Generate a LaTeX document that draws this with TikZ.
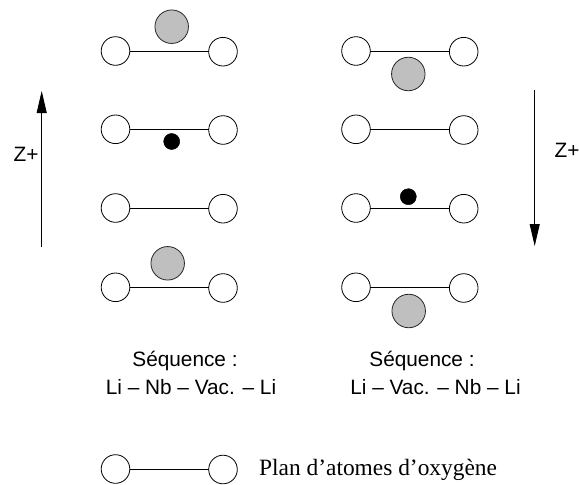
\documentclass[tikz,border=0pt]{standalone}
\usepackage{fontspec}
\setmainfont{Liberation Sans}
\newfontfamily\serifplan{Liberation Serif}
\usetikzlibrary{arrows.meta}
\tikzset{
  x=1pt,y=-1pt,
  oxy/.style={circle,draw=black,fill=white,line width=0.8pt,minimum size=28.6pt,inner sep=0pt,outer sep=0pt},
  nb/.style={circle,draw=black,fill=black,line width=0.5pt,minimum size=16pt,inner sep=0pt},
  li/.style={circle,draw=black!85,fill=black!25,line width=0.8pt,minimum size=33.5pt,inner sep=0pt},
  plane/.style={line width=0.8pt},
  axis/.style={line width=0.8pt,-{Triangle[length=22pt,width=10pt]}},
  lab/.style={anchor=base,inner sep=0pt,font=\fontsize{20.8}{24}\selectfont},
  planlab/.style={anchor=base west,inner sep=0pt,font=\fontsize{23.4}{27}\serifplan}
}
\begin{document}
\begin{tikzpicture}
\useasboundingbox (0,0) rectangle (579,485);
% left column
\node[oxy] (a1) at (115.5,51) {}; \node[oxy] (b1) at (223,51.7) {};
\node[oxy] (a2) at (115.5,129.3) {}; \node[oxy] (b2) at (223,130) {};
\node[oxy] (a3) at (115.5,208) {}; \node[oxy] (b3) at (223,208.7) {};
\node[oxy] (a4) at (115.5,287.3) {}; \node[oxy] (b4) at (223,288) {};
\draw[plane] (a1.east) -- (a1.east -| b1.west);
\draw[plane] (a2.east) -- (a2.east -| b2.west);
\draw[plane] (a3.east) -- (a3.east -| b3.west);
\draw[plane] (a4.east) -- (a4.east -| b4.west);
\node[li] (l1) at (171.7,26.7) {};
\node[nb] (n1) at (171.7,141.5) {};
\node[li] (l2) at (167.7,263.3) {};
% right column
\node[oxy] (c1) at (356,51) {}; \node[oxy] (d1) at (463.7,51.7) {};
\node[oxy] (c2) at (356,129.3) {}; \node[oxy] (d2) at (463.7,130) {};
\node[oxy] (c3) at (356,208) {}; \node[oxy] (d3) at (463.7,208.7) {};
\node[oxy] (c4) at (356,287.3) {}; \node[oxy] (d4) at (463.7,288) {};
\draw[plane] (c1.east) -- (c1.east -| d1.west);
\draw[plane] (c2.east) -- (c2.east -| d2.west);
\draw[plane] (c3.east) -- (c3.east -| d3.west);
\draw[plane] (c4.east) -- (c4.east -| d4.west);
\node[li] (l3) at (408.3,74) {};
\node[nb] (n2) at (408.3,196.7) {};
\node[li] (l4) at (408.7,311) {};
% axes
\coordinate (u0) at (41.7,247); \coordinate (u1) at (41.7,91);
\coordinate (v0) at (534.7,90); \coordinate (v1) at (534.7,246);
\draw[axis] (u0) -- (u1);
\draw[axis] (v0) -- (v1);
\node[lab] (z1) at (26,161) {Z+};
\node[lab] (z2) at (567,157) {Z+};
% captions
\node[lab] (s1) at (185,366) {Séquence :};
\node[lab] (q1) at (191,394) {Li – Nb – Vac. – Li};
\node[lab] (s2) at (422,366) {Séquence :};
\node[lab] (q2) at (435.5,394) {Li – Vac. – Nb – Li};
% legend
\node[oxy] (e) at (115.5,469) {}; \node[oxy] (f) at (223,469.5) {};
\draw[plane] (e.east) -- (e.east -| f.west);
\node[planlab] (p) at (259,475) {Plan d’atomes d’oxygène};
\end{tikzpicture}
\end{document}
